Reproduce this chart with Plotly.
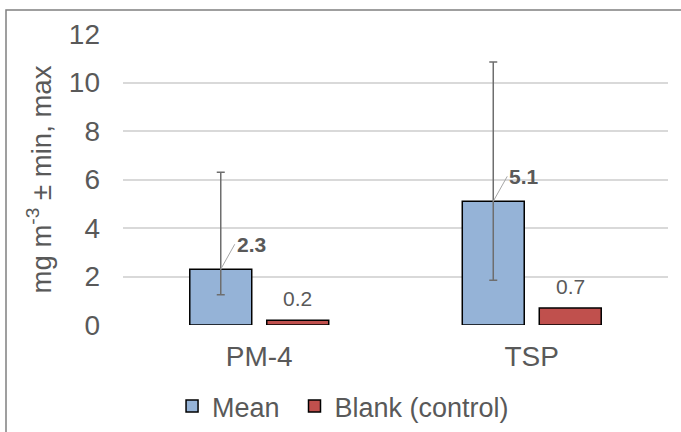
import plotly.graph_objects as go

categories = ["PM-4", "TSP"]
mean_vals = [2.3, 5.1]
mean_max = [6.3, 10.85]
mean_min = [1.25, 1.85]
blank_vals = [0.2, 0.7]
y_ticks = [0, 2, 4, 6, 8, 10, 12]

err_plus = [mx - m for mx, m in zip(mean_max, mean_vals)]
err_minus = [m - mn for mn, m in zip(mean_min, mean_vals)]

FONT = "Liberation Sans, Arial, sans-serif"
GREY = "#595959"

fig = go.Figure()
fig.add_trace(go.Bar(
    name="Mean", x=categories, y=mean_vals, legend="legend",
    marker=dict(color="#95b3d7", line=dict(color="#000000", width=1.5)),
    error_y=dict(type="data", symmetric=False, array=err_plus, arrayminus=err_minus,
                 color="#6e6e6e", thickness=1.5, width=4),
))
fig.add_trace(go.Bar(
    name="Blank (control)", x=categories, y=blank_vals, legend="legend2",
    marker=dict(color="#c0504d", line=dict(color="#000000", width=1.5)),
))

annotations = []
for c, v in zip(categories, mean_vals):
    annotations.append(dict(
        x=c, y=v, xref="x", yref="y", xshift=-38.5,
        text=f"<b>{v:.1f}</b>", showarrow=True, arrowhead=0, arrowwidth=1,
        arrowcolor="#a6a6a6", ax=14, ay=-25, xanchor="left",
        font=dict(family=FONT, size=21, color=GREY),
    ))
for c, v in zip(categories, blank_vals):
    annotations.append(dict(
        x=c, y=v, xref="x", yref="y", xshift=38.5, yshift=8,
        text=f"{v:.1f}", showarrow=False, yanchor="bottom",
        font=dict(family=FONT, size=21, color=GREY),
    ))

legend_common = dict(orientation="h", xanchor="left", y=-0.28, yanchor="middle",
                     font=dict(family=FONT, size=27, color=GREY), bgcolor="rgba(0,0,0,0)")

fig.update_layout(
    width=681, height=432,
    margin=dict(l=123, r=13, t=34, b=107, autoexpand=False),
    paper_bgcolor="white", plot_bgcolor="white",
    font=dict(family=FONT, color=GREY, size=28),
    barmode="group", bargap=0.435, bargroupgap=0.195,
    showlegend=True,
    legend=dict(x=0.09, **legend_common),
    legend2=dict(x=(294.5 - 123) / 545, **legend_common),
    annotations=annotations,
    shapes=[dict(type="rect", xref="paper", yref="paper",
                 x0=(6 - 123) / 545, x1=(700 - 123) / 545,
                 y0=(325 - 450) / 291, y1=(325 - 10) / 291,
                 line=dict(color="#808080", width=1.5), layer="above")],
)
fig.update_yaxes(
    range=[0, 12], tickvals=y_ticks, showgrid=True, gridcolor="#d9d9d9", gridwidth=1.5,
    zeroline=False, showline=False, ticks="", ticklabelstandoff=22,
    tickfont=dict(family=FONT, size=28, color=GREY),
    title=dict(text="mg m<sup>-3</sup> ± min, max", standoff=9,
               font=dict(family=FONT, size=27.5, color=GREY)),
)
fig.update_xaxes(
    showline=False, ticks="", tickfont=dict(family=FONT, size=28, color=GREY),
    ticklabelstandoff=12,
)

fig.write_html("out.html", config={"displayModeBar": False},
               post_script="document.body.style.margin='0';")
